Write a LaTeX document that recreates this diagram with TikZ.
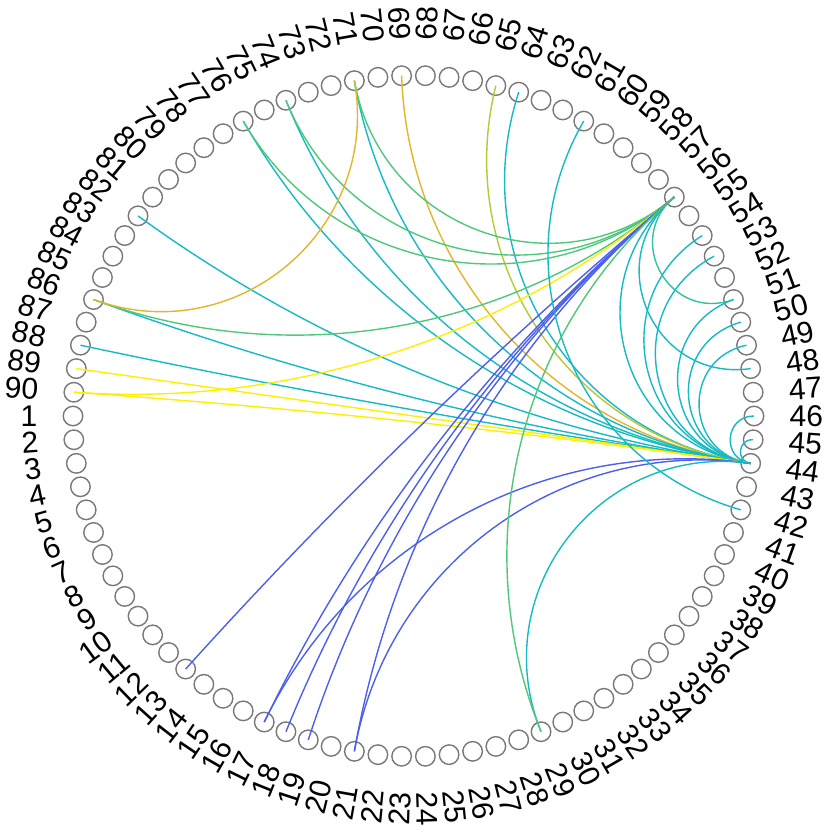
\documentclass[tikz,border=0pt]{standalone}
\usepackage{fontspec}
\setmainfont{Liberation Sans}
\usetikzlibrary{calc}
\definecolor{ecBlue}{RGB}{76,96,236}
\definecolor{ecTeal}{RGB}{22,186,196}
\definecolor{ecGreen}{RGB}{80,200,122}
\definecolor{ecMint}{RGB}{50,192,160}
\definecolor{ecGold}{RGB}{226,182,42}
\definecolor{ecOlive}{RGB}{182,200,52}
\definecolor{ecYellow}{RGB}{252,240,0}
\definecolor{ringGray}{RGB}{120,120,120}
\tikzset{
  vnode/.style={circle, draw=ringGray, line width=1.4pt, minimum size=19.5pt, inner sep=0pt},
  vlabel/.style={inner sep=0pt, font=\fontsize{30}{35}\selectfont},
  edge/.style={line width=1.4pt}
}
\begin{document}
\begin{tikzpicture}[x=1pt,y=1pt]
\useasboundingbox (-413.5,-416) rectangle (415.5,416);
\coordinate (O) at (0,0);
\foreach \k in {1,...,90} {
  \pgfmathsetmacro\a{mod(180+4*(\k-1),360)}
  \node[vnode] (n\k) at (\a:340.5) {};
  \ifnum\k<24
    \pgfmathsetmacro\r{\a-180}
    \node[vlabel, anchor=east, rotate=\r] (l\k) at (\a:376) {\k};
  \else\ifnum\k>68
    \pgfmathsetmacro\r{\a-180}
    \node[vlabel, anchor=east, rotate=\r] (l\k) at (\a:376) {\k};
  \else
    \node[vlabel, anchor=west, rotate=\a] (l\k) at (\a:376) {\k};
  \fi\fi
}
\foreach \i/\j/\c in {
  44/45/ecTeal, 44/46/ecTeal, 44/49/ecTeal, 44/50/ecTeal, 44/51/ecTeal,
  44/53/ecTeal, 44/54/ecTeal, 44/56/ecTeal, 44/64/ecTeal, 44/65/ecOlive,
  44/69/ecGold, 44/71/ecTeal, 44/74/ecTeal, 44/76/ecTeal, 44/82/ecTeal,
  44/86/ecTeal, 44/88/ecTeal, 44/89/ecYellow, 44/90/ecYellow,
  44/17/ecBlue, 44/21/ecBlue, 44/29/ecTeal,
  56/48/ecTeal, 56/51/ecMint, 56/71/ecGreen, 56/74/ecGreen, 56/76/ecGreen,
  56/86/ecGreen, 56/90/ecYellow, 56/13/ecBlue, 56/17/ecBlue, 56/18/ecBlue,
  56/19/ecBlue, 56/21/ecBlue, 56/29/ecGreen,
  71/86/ecGold, 61/42/ecTeal} {
  \pgfmathsetmacro\dd{4*abs(\i-\j)}
  \pgfmathsetmacro\D{min(\dd,360-\dd)}
  \pgfmathsetmacro\s{1/3+2/3*(tan((180-\D)/4))^2}
  \draw[edge, draw=\c] (n\i.center) .. controls ($(O)!\s!(n\i.center)$) and ($(O)!\s!(n\j.center)$) .. (n\j.center);
}
\end{tikzpicture}
\end{document}
